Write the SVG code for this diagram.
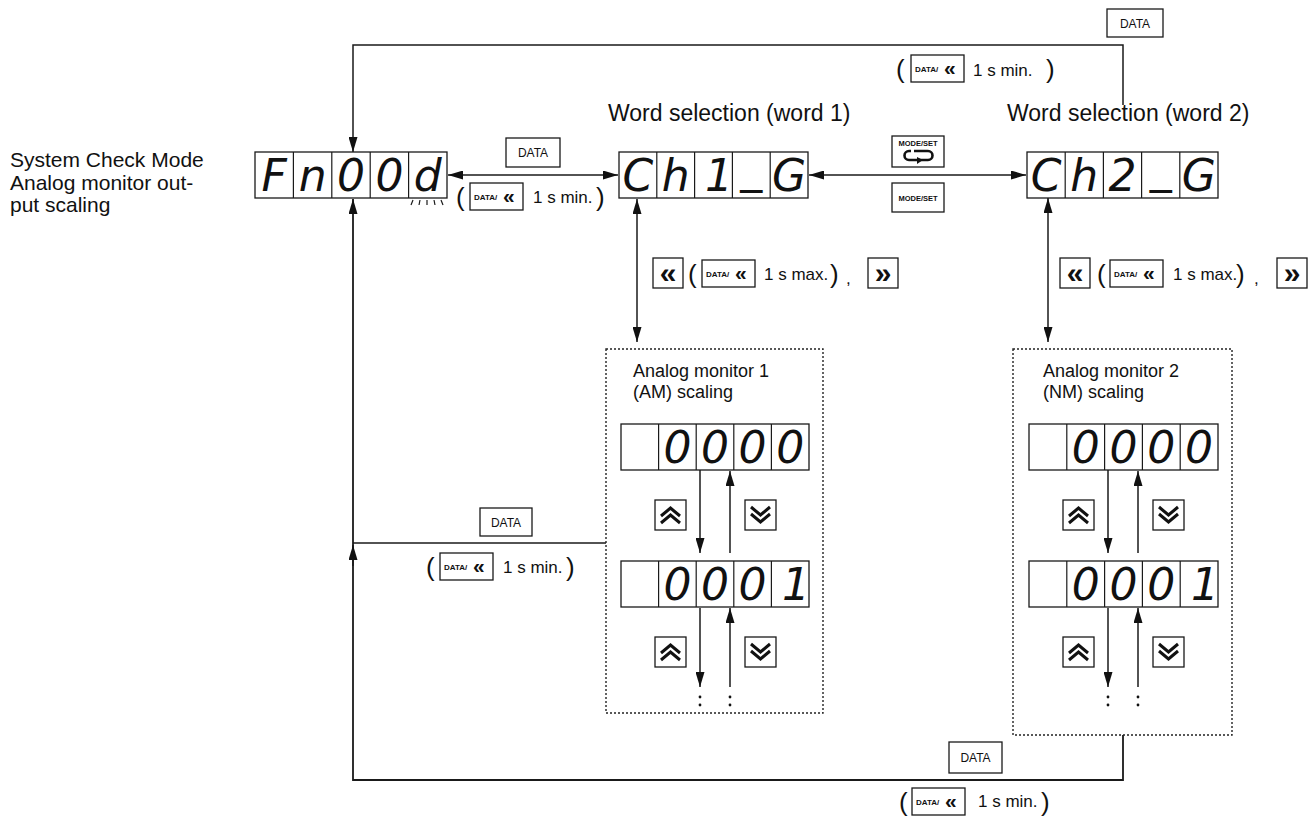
<svg xmlns="http://www.w3.org/2000/svg" width="1315" height="816" viewBox="0 0 1315 816">
<style>
.ln{stroke:#1a1a1a;stroke-width:1.5;fill:none}
.dot{stroke:#222;stroke-width:1.4;fill:none;stroke-dasharray:2,2}
.bx{fill:#fff;stroke:#1a1a1a;stroke-width:1.3}
.dv{stroke:#1a1a1a;stroke-width:1.2}
.t{font-family:"Liberation Sans",Arial,sans-serif;fill:#111}
.lab{font-size:21px}
.ws{font-size:23px}
.am{font-size:18px}
.sm{font-size:17px}
.par{font-size:26px}
.key{font-size:12px;text-anchor:middle}
.tiny{font-size:8px;font-weight:bold}
.mini{font-size:7.5px;font-weight:bold;text-anchor:middle}
.chev{font-size:21px;font-weight:bold}
.big{font-size:30px;font-weight:bold;text-anchor:middle}
.seg{font-family:"DejaVu Sans",sans-serif;font-style:oblique;font-size:44px;text-anchor:middle;fill:#111}
.ic{stroke:#111;stroke-width:3;fill:none}
</style>
<defs>
<marker id="ah" viewBox="0 0 15 9" refX="15" refY="4.5" markerWidth="15" markerHeight="9" markerUnits="userSpaceOnUse" orient="auto-start-reverse"><path d="M0,0 L15,4.5 L0,9 z" fill="#111"/></marker>
<g id="dk">
<rect class="bx" x="0" y="0" width="53" height="27"/>
<text class="t tiny" x="4" y="17">DATA/</text>
<text class="t chev" x="33" y="20">«</text>
</g>
<g id="up">
<rect class="bx" x="0" y="0" width="31" height="30"/>
<polyline class="ic" points="6,16 15.5,8 25,16"/>
<polyline class="ic" points="6,23 15.5,15 25,23"/>
</g>
<g id="dn">
<rect class="bx" x="0" y="0" width="31" height="30"/>
<polyline class="ic" points="6,7 15.5,15 25,7"/>
<polyline class="ic" points="6,14 15.5,22 25,14"/>
</g>
</defs>
<rect width="1315" height="816" fill="#fff"/>

<g id="title-left">
<text class="t lab" x="10" y="167">System Check Mode</text>
<text class="t lab" x="10" y="190">Analog monitor out-</text>
<text class="t lab" x="10" y="212">put scaling</text>
</g>

<g id="connectors">
<path class="ln" d="M1123,105 V45 H353 V152" marker-end="url(#ah)"/>
<path class="ln" d="M448,175 H618" marker-start="url(#ah)" marker-end="url(#ah)"/>
<path class="ln" d="M809,175 H1026" marker-start="url(#ah)" marker-end="url(#ah)"/>
<path class="ln" d="M637,199 V342" marker-start="url(#ah)" marker-end="url(#ah)"/>
<path class="ln" d="M1048,198 V342" marker-start="url(#ah)" marker-end="url(#ah)"/>
<path class="ln" d="M1123,735 V780 H353 V199" marker-end="url(#ah)" style="stroke-width:1.8"/>
<path class="ln" d="M606,543 H353"/>
<path class="ln" d="M353,566 V545" marker-end="url(#ah)"/>
<path class="ln" d="M700,470 V553" marker-end="url(#ah)"/>
<path class="ln" d="M730,553 V471" marker-end="url(#ah)"/>
<path class="ln" d="M700,608 V687" marker-end="url(#ah)"/>
<path class="ln" d="M730,687 V608" marker-end="url(#ah)"/>
<path class="ln" d="M1108,470 V553" marker-end="url(#ah)"/>
<path class="ln" d="M1138,553 V471" marker-end="url(#ah)"/>
<path class="ln" d="M1108,608 V687" marker-end="url(#ah)"/>
<path class="ln" d="M1138,687 V608" marker-end="url(#ah)"/>
<g fill="#111">
<circle cx="700" cy="697" r="1.4"/><circle cx="700" cy="705" r="1.4"/>
<circle cx="730" cy="697" r="1.4"/><circle cx="730" cy="705" r="1.4"/>
<circle cx="1108" cy="697" r="1.4"/><circle cx="1108" cy="705" r="1.4"/>
<circle cx="1138" cy="697" r="1.4"/><circle cx="1138" cy="705" r="1.4"/>
</g>
</g>

<g id="display-fn00d">
<rect class="bx" x="255" y="152" width="192" height="46"/>
<line class="dv" x1="293.4" y1="152" x2="293.4" y2="198"/>
<line class="dv" x1="331.8" y1="152" x2="331.8" y2="198"/>
<line class="dv" x1="370.2" y1="152" x2="370.2" y2="198"/>
<line class="dv" x1="408.6" y1="152" x2="408.6" y2="198"/>
<text class="seg" x="274.2" y="191">F</text>
<text class="seg" x="312.6" y="191">n</text>
<text class="seg" x="351" y="191">0</text>
<text class="seg" x="389.4" y="191">0</text>
<text class="seg" x="427.8" y="191">d</text>
<g class="dv">
<line x1="413" y1="200" x2="411" y2="205"/><line x1="420" y1="200" x2="419" y2="205"/>
<line x1="427" y1="200" x2="427" y2="205"/><line x1="434" y1="200" x2="435" y2="205"/>
<line x1="441" y1="200" x2="443" y2="205"/>
</g>
</g>

<g id="label-word1">
<text class="t ws" x="608" y="121">Word selection (word 1)</text>
</g>
<g id="display-ch1">
<rect class="bx" x="619" y="152" width="189" height="46"/>
<line class="dv" x1="656.8" y1="152" x2="656.8" y2="198"/>
<line class="dv" x1="694.6" y1="152" x2="694.6" y2="198"/>
<line class="dv" x1="732.4" y1="152" x2="732.4" y2="198"/>
<line class="dv" x1="770.2" y1="152" x2="770.2" y2="198"/>
<text class="seg" x="637.9" y="191">C</text>
<text class="seg" x="675.7" y="191">h</text>
<text class="seg" x="719" y="191">1</text>
<text class="seg" x="751.3" y="182">_</text>
<text class="seg" x="789.1" y="191">G</text>
</g>

<g id="label-word2">
<text class="t ws" x="1007" y="121">Word selection (word 2)</text>
</g>
<g id="display-ch2">
<rect class="bx" x="1027" y="152" width="191" height="46"/>
<line class="dv" x1="1065.2" y1="152" x2="1065.2" y2="198"/>
<line class="dv" x1="1103.4" y1="152" x2="1103.4" y2="198"/>
<line class="dv" x1="1141.6" y1="152" x2="1141.6" y2="198"/>
<line class="dv" x1="1179.8" y1="152" x2="1179.8" y2="198"/>
<text class="seg" x="1046.1" y="191">C</text>
<text class="seg" x="1084.3" y="191">h</text>
<text class="seg" x="1122.5" y="191">2</text>
<text class="seg" x="1160.7" y="182">_</text>
<text class="seg" x="1198.9" y="191">G</text>
</g>

<g id="key-data-top">
<rect class="bx" x="1107" y="9" width="56" height="28"/>
<text class="t key" x="1135" y="28">DATA</text>
<text class="t par" x="896" y="78">(</text>
<use href="#dk" x="911" y="55"/>
<text class="t sm" x="973" y="76">1 s min.</text>
<text class="t par" x="1046" y="78">)</text>
</g>

<g id="key-data-mid">
<rect class="bx" x="506" y="138" width="54" height="29"/>
<text class="t key" x="533" y="157">DATA</text>
<text class="t par" x="456" y="206">(</text>
<use href="#dk" x="470" y="183"/>
<text class="t sm" x="533" y="203">1 s min.</text>
<text class="t par" x="596" y="206">)</text>
</g>

<g id="key-modeset">
<rect class="bx" x="892" y="136" width="52" height="31"/>
<text class="t mini" x="918" y="146">MODE/SET</text>
<path class="ic" style="stroke-width:2.6" d="M914,151 H928 A4.5,4.5 0 0 1 928,160 H909 A4.5,4.5 0 0 1 909,151 H911"/>
<path d="M917,157 L923,160 L917,164 z" fill="#111"/>
<rect class="bx" x="892" y="183" width="52" height="29"/>
<text class="t mini" x="918" y="201">MODE/SET</text>
</g>

<g id="keys-row1">
<rect class="bx" x="653" y="258" width="30" height="30"/>
<text class="t big" x="668" y="283">«</text>
<text class="t par" x="688" y="283">(</text>
<use href="#dk" x="702" y="260"/>
<text class="t sm" x="764" y="280">1 s max.</text>
<text class="t par" x="830" y="283">)</text>
<text class="t sm" x="846" y="284">,</text>
<rect class="bx" x="868" y="258" width="30" height="30"/>
<text class="t big" x="883" y="283">»</text>
</g>

<g id="keys-row2">
<rect class="bx" x="1060" y="258" width="30" height="30"/>
<text class="t big" x="1075" y="283">«</text>
<text class="t par" x="1097" y="283">(</text>
<use href="#dk" x="1110" y="260"/>
<text class="t sm" x="1173" y="280">1 s max.</text>
<text class="t par" x="1236" y="283">)</text>
<text class="t sm" x="1254" y="284">,</text>
<rect class="bx" x="1277" y="258" width="30" height="30"/>
<text class="t big" x="1292" y="283">»</text>
</g>

<g id="monitor1">
<rect class="dot" x="606" y="349" width="217" height="364"/>
<text class="t am" x="633" y="377">Analog monitor 1</text>
<text class="t am" x="633" y="398">(AM) scaling</text>
<rect class="bx" x="621" y="424" width="188" height="46"/>
<line class="dv" x1="658.6" y1="424" x2="658.6" y2="470"/>
<line class="dv" x1="696.2" y1="424" x2="696.2" y2="470"/>
<line class="dv" x1="733.8" y1="424" x2="733.8" y2="470"/>
<line class="dv" x1="771.4" y1="424" x2="771.4" y2="470"/>
<text class="seg" x="677.4" y="463">0</text>
<text class="seg" x="715" y="463">0</text>
<text class="seg" x="752.6" y="463">0</text>
<text class="seg" x="790.2" y="463">0</text>
<use href="#up" x="655" y="500"/>
<use href="#dn" x="745" y="500"/>
<rect class="bx" x="621" y="561" width="188" height="46"/>
<line class="dv" x1="658.6" y1="561" x2="658.6" y2="607"/>
<line class="dv" x1="696.2" y1="561" x2="696.2" y2="607"/>
<line class="dv" x1="733.8" y1="561" x2="733.8" y2="607"/>
<line class="dv" x1="771.4" y1="561" x2="771.4" y2="607"/>
<text class="seg" x="677.4" y="600">0</text>
<text class="seg" x="715" y="600">0</text>
<text class="seg" x="752.6" y="600">0</text>
<text class="seg" x="796" y="600">1</text>
<use href="#up" x="655" y="637"/>
<use href="#dn" x="745" y="637"/>
</g>

<g id="key-data-left">
<rect class="bx" x="480" y="508" width="52" height="28"/>
<text class="t key" x="506" y="527">DATA</text>
<text class="t par" x="426" y="576">(</text>
<use href="#dk" x="440" y="553"/>
<text class="t sm" x="503" y="573">1 s min.</text>
<text class="t par" x="566" y="576">)</text>
</g>

<g id="monitor2">
<rect class="dot" x="1013" y="349" width="219" height="386"/>
<text class="t am" x="1043" y="377">Analog monitor 2</text>
<text class="t am" x="1043" y="398">(NM) scaling</text>
<rect class="bx" x="1029" y="424" width="189" height="46"/>
<line class="dv" x1="1066.8" y1="424" x2="1066.8" y2="470"/>
<line class="dv" x1="1104.6" y1="424" x2="1104.6" y2="470"/>
<line class="dv" x1="1142.4" y1="424" x2="1142.4" y2="470"/>
<line class="dv" x1="1180.2" y1="424" x2="1180.2" y2="470"/>
<text class="seg" x="1085.7" y="463">0</text>
<text class="seg" x="1123.5" y="463">0</text>
<text class="seg" x="1161.3" y="463">0</text>
<text class="seg" x="1199.1" y="463">0</text>
<use href="#up" x="1063" y="500"/>
<use href="#dn" x="1153" y="500"/>
<rect class="bx" x="1029" y="561" width="189" height="46"/>
<line class="dv" x1="1066.8" y1="561" x2="1066.8" y2="607"/>
<line class="dv" x1="1104.6" y1="561" x2="1104.6" y2="607"/>
<line class="dv" x1="1142.4" y1="561" x2="1142.4" y2="607"/>
<line class="dv" x1="1180.2" y1="561" x2="1180.2" y2="607"/>
<text class="seg" x="1085.7" y="600">0</text>
<text class="seg" x="1123.5" y="600">0</text>
<text class="seg" x="1161.3" y="600">0</text>
<text class="seg" x="1205" y="600">1</text>
<use href="#up" x="1063" y="637"/>
<use href="#dn" x="1153" y="637"/>
</g>

<g id="key-data-bottom">
<rect class="bx" x="949" y="742" width="53" height="31"/>
<text class="t key" x="975.5" y="762">DATA</text>
<text class="t par" x="899" y="811">(</text>
<use href="#dk" x="912" y="788"/>
<text class="t sm" x="978" y="807">1 s min.</text>
<text class="t par" x="1041" y="811">)</text>
</g>
</svg>
